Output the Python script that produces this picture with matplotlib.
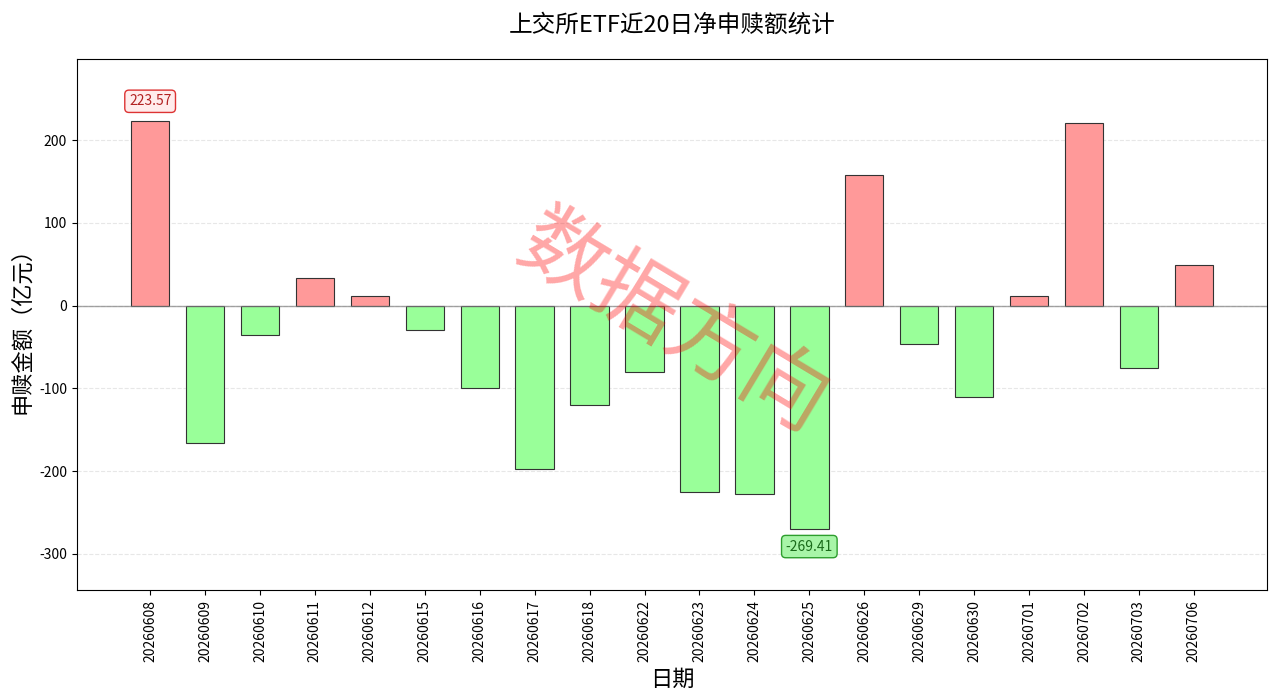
import matplotlib.pyplot as plt
import numpy as np

plt.rcParams['font.family'] = ['Noto Sans CJK SC', 'DejaVu Sans']
plt.rcParams['axes.unicode_minus'] = False

# ---------- data ----------
dates = ['20260608', '20260609', '20260610', '20260611', '20260612',
         '20260615', '20260616', '20260617', '20260618', '20260622',
         '20260623', '20260624', '20260625', '20260626', '20260629',
         '20260630', '20260701', '20260702', '20260703', '20260706']
net_flow = [223.57, -166.0, -35.0, 34.0, 12.0,
            -30.0, -100.0, -197.5, -120.0, -80.0,
            -225.0, -228.0, -269.41, 158.5, -46.0,
            -110.0, 12.0, 220.5, -75.0, 49.5]

colors = ['#ff9999' if v >= 0 else '#99ff99' for v in net_flow]
x = np.arange(len(dates))

fig, ax = plt.subplots(figsize=(12.8, 6.96), dpi=100)
ax.bar(x, net_flow, width=0.7, color=colors, edgecolor='#333333', linewidth=0.8)
ax.axhline(0, color='gray', linewidth=1, alpha=0.7)
ax.grid(axis='y', linestyle='--', alpha=0.3)
ax.set_axisbelow(True)

ax.set_xticks(x)
ax.set_xticklabels(dates, rotation=90, fontsize=10)
ax.tick_params(axis='y', labelsize=10)
ax.set_ylim(-344, 298)

ax.set_title('上交所ETF近20日净申赎额统计', fontsize=17, pad=20)
ax.set_xlabel('日期', fontsize=16)
ax.set_ylabel('申赎金额（亿元）', fontsize=16)

# max / min labels
imax = int(np.argmax(net_flow))
imin = int(np.argmin(net_flow))
ax.annotate(f'{net_flow[imax]:.2f}', xy=(imax, net_flow[imax]), xytext=(0, 14),
            textcoords='offset points', ha='center', va='center', fontsize=10,
            color='#b22222',
            bbox=dict(boxstyle='round,pad=0.3', fc='#ffecec', ec='#dd3333', lw=1))
ax.annotate(f'{net_flow[imin]:.2f}', xy=(imin, net_flow[imin]), xytext=(0, -13),
            textcoords='offset points', ha='center', va='center', fontsize=10,
            color='#1a6b1a',
            bbox=dict(boxstyle='round,pad=0.3', fc='#a8f5a8', ec='#2e9e2e', lw=1))

# watermark
ax.text(0.5, 0.5, '数据方向', transform=ax.transAxes, fontsize=62,
        color='red', alpha=0.35, rotation=-31, ha='center', va='center')

plt.subplots_adjust(left=0.06, right=0.99, top=0.915, bottom=0.152)
plt.savefig('out.png', dpi=100)
